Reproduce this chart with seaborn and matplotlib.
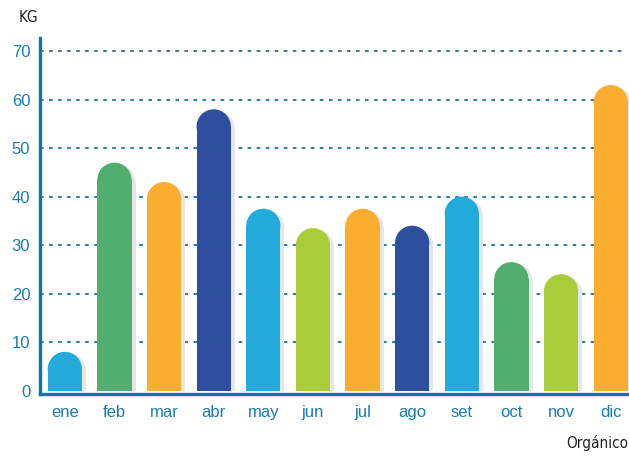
import numpy as np
import pandas as pd
import seaborn as sns
import matplotlib.pyplot as plt
from matplotlib.patches import Ellipse, Rectangle

meses = ['ene', 'feb', 'mar', 'abr', 'may', 'jun', 'jul', 'ago', 'set', 'oct', 'nov', 'dic']
kg = [8, 47, 43, 58, 37.5, 33.5, 37.5, 34, 40, 26.5, 24, 63]
colores = ['#25aadc', '#52ae6e', '#fbad2f', '#2e4f9f', '#25aadc', '#a8cc3a',
           '#fbad2f', '#2e4f9f', '#25aadc', '#52ae6e', '#a8cc3a', '#fbad2f']
yticks = [0, 10, 20, 30, 40, 50, 60, 70]

sns.set_style('white')
plt.rcParams['font.family'] = ['Liberation Sans', 'DejaVu Sans']
azul = '#1a7bb3'

df = pd.DataFrame({'mes': meses, 'kg': kg})
fig = plt.figure(figsize=(6.29, 4.57), dpi=100)
ax = fig.add_axes([40 / 629, 63 / 457, 589 / 629, 356 / 457])
sns.barplot(data=df, x='mes', y='kg', hue='mes', palette=colores, legend=False,
            width=0.69, saturation=1, ax=ax, zorder=3)

ax.set_xlim(-0.5, 11.37)
ax.set_ylim(-0.7, 72.7)
fig.canvas.draw()

# radius of the rounded top in data units (half bar width in pixels)
bb = ax.get_window_extent()
px_x = (ax.get_xlim()[1] - ax.get_xlim()[0]) / bb.width
px_y = (ax.get_ylim()[1] - ax.get_ylim()[0]) / bb.height

for p in list(ax.patches):
    x, w, h = p.get_x(), p.get_width(), p.get_height()
    col = p.get_facecolor()
    r_px = w / px_x / 2
    ry = r_px * px_y
    body = h - ry
    p.set_height(body)
    p.set_linewidth(0)
    ax.add_patch(Ellipse((x + w / 2, body), w, 2 * ry, facecolor=col, lw=0, zorder=3))
    # shadow
    dx, dy = 4 * px_x, 2 * px_y
    ax.add_patch(Rectangle((x + dx, 0), w, body - dy, facecolor='#e6e6e6', lw=0, zorder=2))
    ax.add_patch(Ellipse((x + w / 2 + dx, body - dy), w, 2 * ry, facecolor='#e6e6e6', lw=0, zorder=2))

for v in yticks[1:]:
    ax.axhline(v, xmin=0, xmax=0.995, color='#1f6fa0', lw=1.3, ls=(0, (2, 3)), zorder=1)

sns.despine(ax=ax, top=True, right=True)
for s in ['left', 'bottom']:
    ax.spines[s].set_color('#0f74a6')
    ax.spines[s].set_linewidth(2.4)
    ax.spines[s].set_zorder(4)

ax.set_yticks(yticks)
ax.tick_params(axis='both', length=0, colors=azul, labelsize=12)
ax.tick_params(axis='y', pad=7)
ax.tick_params(axis='x', pad=8)
ax.set_xlabel('')
ax.set_ylabel('')

fig.text(28 / 629, 1 - 18 / 457, 'KG', family='DejaVu Sans', fontstretch='condensed',
         fontsize=11, ha='center', va='center', color='#222222')
fig.text(628 / 629, 1 - 443 / 457, 'Orgánico', family='DejaVu Sans', fontstretch='condensed',
         fontsize=11, ha='right', va='center', color='#222222')

fig.savefig('out.png', dpi=100)
